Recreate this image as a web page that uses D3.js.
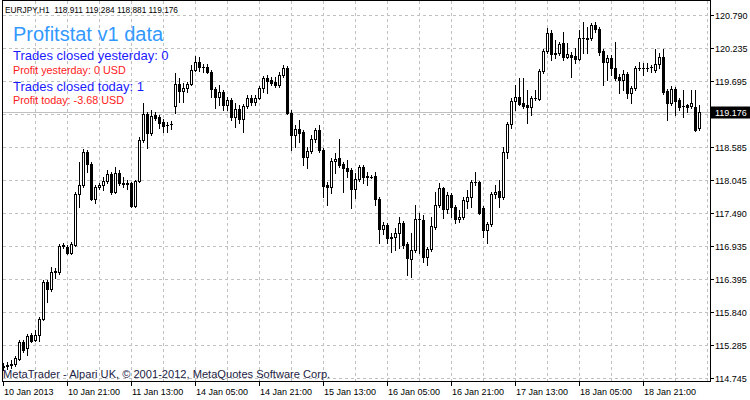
<!DOCTYPE html>
<html><head><meta charset="utf-8">
<script src="https://cdn.jsdelivr.net/npm/d3@7"></script>
<style>html,body{margin:0;padding:0;background:#fff;overflow:hidden}svg{display:block}</style>
</head><body>
<svg id="c" width="750" height="400"></svg>
<script>
const symbolTitle = "EURJPY,H1  118.911 119.284 118.881 119.176";
const open = [
114.923,114.94,114.957,114.973,115.057,115.34,115.24,115.457,115.373,115.457,
115.723,116.34,116.223,116.507,116.507,116.94,116.923,116.823,116.957,117.807,
117.957,118.507,118.307,117.723,117.923,117.957,118.023,118.14,117.84,118.157,
117.973,117.99,117.99,117.607,118.023,118.707,119.14,118.823,119.123,119.09,
119.007,118.957,118.973,119.273,119.64,119.523,119.573,119.64,119.873,120.007,
119.923,119.923,119.84,119.557,119.423,119.507,119.29,119.373,119.09,119.223,
119.057,119.273,119.407,119.34,119.407,119.573,119.74,119.707,119.673,119.623,
119.79,119.907,119.157,118.79,118.89,118.84,118.423,118.523,118.723,118.873,
118.54,117.957,117.923,118.357,118.407,118.307,118.24,118.207,117.89,118.057,
118.257,118.107,118.09,118.107,117.723,117.223,117.29,117.073,117.09,117.157,
117.323,116.973,116.723,116.873,117.39,117.373,116.757,116.89,117.257,117.623,
117.907,117.557,117.79,117.59,117.39,117.423,117.69,117.757,118.007,118.007,
117.573,117.207,117.307,117.807,117.857,117.757,118.507,118.973,119.357,119.423,
119.323,119.29,119.257,119.407,119.39,119.857,120.19,120.49,120.157,120.157,
120.323,120.09,120.123,120.107,120.057,120.407,120.39,120.407,120.623,120.557,
120.19,120.007,120.073,119.907,119.757,119.707,119.807,119.49,119.573,119.907,
119.907,119.907,119.923,119.873,119.973,120.09,119.523,119.323,119.557,119.373,
119.273,119.29,119.273,119.257,118.911];
const high = [
114.99,115.007,115.04,115.107,115.373,115.373,115.473,115.49,115.54,115.757,
116.373,116.373,116.59,116.573,116.973,116.99,116.957,117.007,117.84,118.34,
118.557,118.54,118.34,117.957,117.99,118.09,118.207,118.173,118.257,118.207,
118.09,118.04,118.007,118.04,118.757,119.323,119.173,119.207,119.173,119.123,
119.057,119.007,119.023,119.823,119.74,119.657,119.673,119.957,120.107,120.09,
119.973,119.973,119.873,119.59,119.623,119.54,119.423,119.407,119.323,119.29,
119.307,119.457,119.457,119.457,119.607,119.773,119.79,119.757,119.757,119.84,
119.957,119.94,119.207,118.957,119.04,118.873,118.59,118.79,118.907,118.957,
118.573,118.007,118.407,118.49,118.723,118.34,118.373,118.24,118.157,118.29,
118.29,118.173,118.123,118.173,117.757,117.34,117.323,117.157,117.24,117.423,
117.357,117.007,117.157,117.623,117.49,117.457,116.923,117.423,117.84,117.99,
117.923,117.84,117.823,117.623,117.54,117.757,117.873,118.04,118.173,118.023,
117.607,117.34,117.84,117.957,118.04,118.59,119.007,119.407,119.623,119.74,
119.74,119.54,119.44,119.54,119.89,120.223,120.573,120.54,120.373,120.34,
120.507,120.323,120.173,120.24,120.54,120.673,120.59,120.657,120.673,120.59,
120.223,120.123,120.123,120.34,119.807,119.873,119.84,119.607,119.94,120.007,
119.99,119.99,119.957,120.223,120.157,120.223,119.557,119.607,119.59,119.407,
119.54,119.307,119.54,119.54,119.284];
const low = [
114.873,114.89,114.907,114.94,115.04,115.173,115.123,115.34,115.357,115.357,
115.707,116.007,116.19,116.407,116.473,116.907,116.807,116.807,116.94,117.59,
117.923,118.173,117.707,117.657,117.89,117.873,117.99,117.807,117.823,117.957,
117.923,117.89,117.59,117.59,118.007,118.673,118.573,118.79,119.04,118.907,
118.84,118.84,118.89,119.157,119.34,119.34,119.507,119.623,119.857,119.857,
119.84,119.823,119.423,119.24,119.29,119.207,119.207,119.04,118.923,118.99,
118.84,119.24,119.29,119.29,119.39,119.507,119.49,119.623,119.59,119.59,
119.757,119.14,118.54,118.59,118.673,118.29,118.24,118.49,118.673,118.507,
117.757,117.623,117.823,118.157,118.257,117.84,118.09,117.573,117.74,118.023,
117.99,117.957,118.073,117.623,116.99,117.14,116.99,116.84,116.873,116.907,
116.907,116.457,116.423,116.84,116.823,116.673,116.623,116.857,117.223,117.59,
117.407,117.49,117.423,117.323,117.34,117.39,117.573,117.59,117.957,117.473,
117.09,116.99,117.273,117.74,117.59,117.723,118.407,118.907,119.207,119.29,
119.24,118.99,119.123,119.373,119.373,119.823,120.157,120.04,120.073,120.123,
120.04,120.073,119.757,119.99,120.04,120.157,120.157,120.373,120.507,120.123,
119.623,119.707,119.79,119.707,119.49,119.54,119.407,119.323,119.54,119.873,
119.79,119.857,119.84,119.84,119.907,119.473,119.04,119.29,119.123,119.207,
119.09,119.173,119.24,118.857,118.881];
const close = [
114.94,114.957,114.973,115.073,115.34,115.207,115.44,115.357,115.457,115.723,
116.34,116.223,116.507,116.523,116.94,116.957,116.823,116.973,117.807,117.957,
118.507,118.307,117.723,117.923,117.957,118.023,118.14,117.84,118.157,117.99,
117.99,117.973,117.607,118.023,118.707,119.14,118.823,119.107,119.073,118.99,
118.94,118.957,118.973,119.64,119.523,119.573,119.64,119.873,120.007,119.923,
119.923,119.84,119.557,119.423,119.507,119.29,119.373,119.09,119.223,119.057,
119.273,119.407,119.34,119.407,119.573,119.74,119.69,119.657,119.623,119.79,
119.907,119.157,118.79,118.89,118.823,118.423,118.523,118.723,118.873,118.54,
117.94,117.923,118.357,118.39,118.29,118.24,118.19,117.89,118.057,118.257,
118.09,118.09,118.09,117.723,117.223,117.29,117.073,117.09,117.157,117.323,
116.957,116.74,116.873,117.39,117.39,116.757,116.89,117.273,117.623,117.907,
117.557,117.79,117.59,117.39,117.423,117.707,117.757,118.007,118.007,117.49,
117.207,117.307,117.807,117.84,117.757,118.507,118.973,119.357,119.423,119.307,
119.273,119.257,119.407,119.407,119.857,120.19,120.49,120.14,120.14,120.307,
120.09,120.14,120.09,120.057,120.407,120.407,120.407,120.623,120.557,120.173,
120.007,120.073,119.907,119.74,119.707,119.807,119.49,119.573,119.907,119.907,
119.907,119.907,119.923,119.973,120.09,119.507,119.323,119.557,119.357,119.257,
119.273,119.257,119.323,118.873,119.176];

const priceTicks = [120.790,120.235,119.695,119.140,118.585,118.045,117.490,116.935,116.395,115.840,115.285,114.745];
const priceTickLabels = ["120.790","120.235","119.695","","118.585","118.045","117.490","116.935","116.395","115.840","115.285","114.745"];
const timeTickBars = [0,16,32,48,64,80,96,112,128,144,160];
const timeTickLabels = ["10 Jan 2013","10 Jan 21:00","11 Jan 13:00","14 Jan 05:00","14 Jan 21:00","15 Jan 13:00","16 Jan 05:00","16 Jan 21:00","17 Jan 13:00","18 Jan 05:00","18 Jan 21:00"];
const lastPrice = 119.176;
const infoTitle = "Profitstat v1 data";
const infoLines = ["Trades closed yesterday: 0","Profit yesterday: 0 USD","Trades closed today: 1","Profit today: -3.68 USD"];
const copyright = "MetaTrader - Alpari UK, \u00A9 2001-2012, MetaQuotes Software Corp.";

const svg = d3.select("#c");
const FONT = "'Liberation Sans', Arial, sans-serif";
const frame = {l:2.5, r:710.5, t:0.5, b:381.5};
const n = open.length;
const x = d3.scaleLinear().domain([0, n-1]).range([3.5, 3.5 + 4*(n-1)]);
const y = d3.scaleLinear().domain([114.745, 120.790]).range([377.7, 15]);
const py = v => Math.round(y(v)) + 0.5;

const g = svg.append("g").attr("shape-rendering","crispEdges");

// vertical grid
const vg = d3.range(8, n + 4, 8);
g.selectAll("line.vg").data(vg).join("line")
  .attr("x1", d => x(d)).attr("x2", d => x(d))
  .attr("y1", frame.t).attr("y2", frame.b)
  .attr("stroke","#c0c0c0").attr("stroke-dasharray","3,3");
// horizontal grid
g.selectAll("line.hg").data(priceTicks).join("line")
  .attr("x1", frame.l).attr("x2", frame.r)
  .attr("y1", d => py(d)).attr("y2", d => py(d))
  .attr("stroke","#c0c0c0").attr("stroke-dasharray","3,3");
// bid line
g.append("line").attr("x1", frame.l).attr("x2", frame.r)
  .attr("y1", py(lastPrice)).attr("y2", py(lastPrice)).attr("stroke","#c0c0c0");

// candles
const idx = d3.range(n);
const cg = g.append("g");
cg.selectAll("line.w").data(idx).join("line")
  .attr("x1", i => x(i)).attr("x2", i => x(i))
  .attr("y1", i => Math.round(y(high[i]))).attr("y2", i => Math.round(y(low[i])) + 1)
  .attr("stroke","#000");
idx.forEach(i => {
  const yo = Math.round(y(open[i])), yc = Math.round(y(close[i]));
  const top = Math.min(yo, yc), bot = Math.max(yo, yc);
  if (bot - top < 1) {
    cg.append("line").attr("x1", x(i) - 1.5).attr("x2", x(i) + 1.5)
      .attr("y1", top + 0.5).attr("y2", top + 0.5).attr("stroke","#000");
  } else {
    cg.append("rect").attr("x", x(i) - 1).attr("width", 2)
      .attr("y", top + 0.5).attr("height", bot - top)
      .attr("fill", close[i] >= open[i] ? "#fff" : "#000").attr("stroke","#000");
  }
});

// frame
g.append("rect").attr("x", frame.l).attr("y", frame.t)
  .attr("width", frame.r - frame.l).attr("height", frame.b - frame.t)
  .attr("fill","none").attr("stroke","#000");

// right axis ticks + labels
g.selectAll("line.rt").data(priceTicks).join("line")
  .attr("x1", frame.r).attr("x2", frame.r + 3)
  .attr("y1", d => py(d)).attr("y2", d => py(d)).attr("stroke","#000");
svg.selectAll("text.rl").data(priceTicks).join("text")
  .attr("x", 715).attr("y", d => py(d) + 3.5)
  .attr("font-family", FONT).attr("font-size", 9).attr("fill","#000")
  .text((d,i) => priceTickLabels[i]);
// last price box
svg.append("rect").attr("x", 711).attr("y", py(lastPrice) - 6).attr("width", 39).attr("height", 12).attr("fill","#000");
svg.append("text").attr("x", 715).attr("y", py(lastPrice) + 3.5)
  .attr("font-family", FONT).attr("font-size", 9).attr("fill","#fff").text(lastPrice.toFixed(3));

// bottom axis ticks + labels
g.selectAll("line.bt").data(timeTickBars).join("line")
  .attr("x1", d => x(d)).attr("x2", d => x(d))
  .attr("y1", frame.b).attr("y2", frame.b + 4).attr("stroke","#000");
svg.selectAll("text.bl").data(timeTickBars).join("text")
  .attr("x", d => x(d) + 0.5).attr("y", 395)
  .attr("font-family", FONT).attr("font-size", 9).attr("fill","#000")
  .text((d,i) => timeTickLabels[i]);

// overlay texts
svg.append("text").attr("x", 5).attr("y", 13).attr("font-family", FONT).attr("font-size", 8.3)
  .attr("fill","#000").attr("xml:space","preserve").text(symbolTitle);
svg.append("text").attr("x", 13).attr("y", 41).attr("font-family", FONT).attr("font-size", 20)
  .attr("fill","#3399ff").text(infoTitle);
const lineStyles = [{y:60,size:13,color:"#1a1aff"},{y:74,size:10.8,color:"#ff1a1a"},{y:91,size:13,color:"#1a1aff"},{y:104,size:10.8,color:"#ff1a1a"}];
infoLines.forEach((t,i) => {
  svg.append("text").attr("x", 13).attr("y", lineStyles[i].y).attr("font-family", FONT)
    .attr("font-size", lineStyles[i].size).attr("fill", lineStyles[i].color).text(t);
});
svg.append("text").attr("x", 3).attr("y", 378).attr("font-family", FONT).attr("font-size", 11.1)
  .attr("fill","#222244").text(copyright);
</script>
</body></html>
